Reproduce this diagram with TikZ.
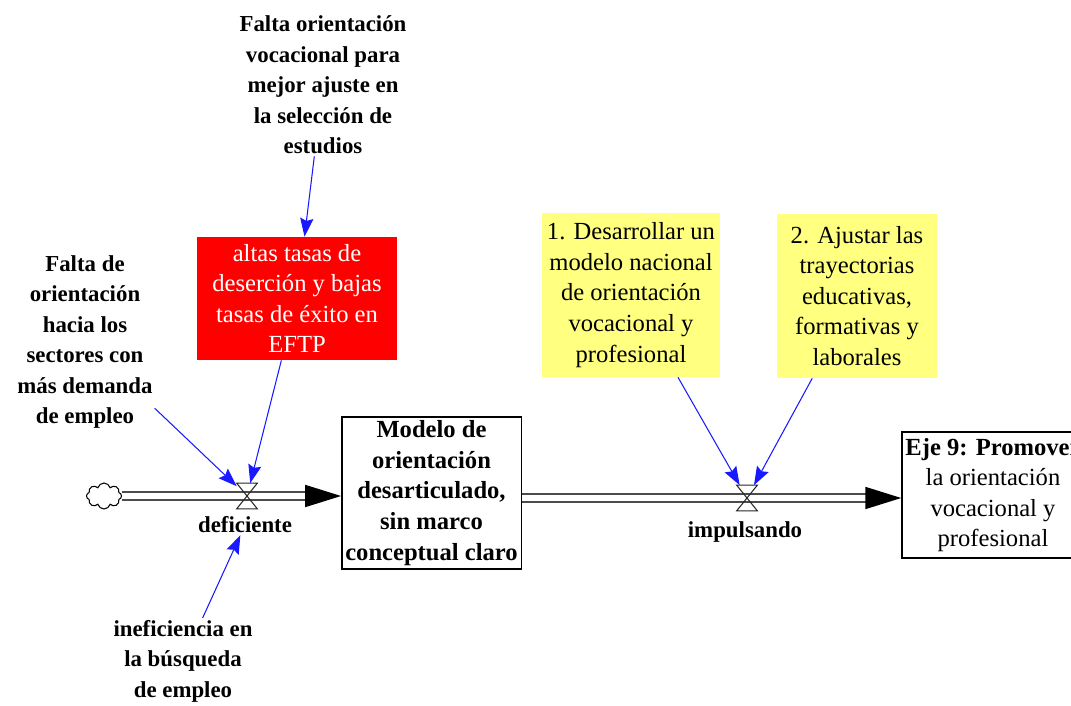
\documentclass[tikz,border=0pt]{standalone}
\usepackage{fontspec}
\setmainfont{Liberation Serif}
\usetikzlibrary{arrows.meta, positioning, shapes.symbols}
\definecolor{auxyellow}{RGB}{255,255,128}
\definecolor{linkblue}{RGB}{25,25,255}
\definecolor{probred}{RGB}{255,0,0}

\begin{document}
\begin{tikzpicture}[
    x=0.02cm, y=-0.02cm,
    txt/.style={align=center, font=\fontsize{14}{17.4}\selectfont, inner sep=2pt},
    cause/.style={align=center, font=\fontsize{13}{17.4}\selectfont\bfseries, inner sep=1pt},
    stock/.style={txt, draw, line width=0.8pt, minimum width=3.4cm, minimum height=3cm},
    aux/.style={txt, fill=auxyellow, minimum height=3.28cm},
    problem/.style={txt, fill=probred, text=white, minimum width=4cm, minimum height=2.46cm},
    valve/.style={inner sep=0, minimum width=0.4cm, minimum height=0.5cm},
    valveline/.style={draw=black!85, line width=0.6pt},
    pipe/.style={draw=black!70, line width=1pt, double=white, double distance=1.1mm,
        -{Triangle[length=0.72cm, width=0.44cm, color=black]}},
    link/.style={draw=linkblue, line width=0.6pt, -{Stealth[length=10.5pt, width=7.5pt, inset=1.5pt]}}
]
\useasboundingbox (0,0) rectangle (1071,706);

% causes
\node[cause] (vocacional) at (323,85) {Falta orientación\\vocacional para\\mejor ajuste en\\la selección de\\estudios};
\node[cause] (sectores) at (85,342) {Falta de\\orientación\\hacia los\\sectores con\\más demanda\\de empleo};
\node[cause] (busqueda) at (183,661) {ineficiencia en\\la búsqueda\\de empleo};
\node[problem] (tasas) at (297,298.5) {altas tasas de\\deserción y bajas\\tasas de éxito en\\EFTP};

% stock and flows
\node[cloud, draw, line width=0.6pt, cloud puffs=8, minimum width=0.7cm, minimum height=0.52cm, inner sep=0] (src) at (104,496) {};
\node[valve] (vd) at (247,496) {};
\node[cause] (deficiente) at (245,525) {deficiente};
\node[stock] (modelo) at (431.5,493) {\bfseries Modelo de\\\bfseries orientación\\\bfseries desarticulado,\\\bfseries sin marco\\\bfseries conceptual claro};
\node[valve] (vi) at (747,498) {};
\node[cause] (impulsando) at (745,532) {impulsando};
\node[stock, minimum width=3.52cm, minimum height=2.52cm] (eje) at (993,495) {\textbf{Eje 9: Promover}\\la orientación\\vocacional y\\profesional};

% actions
\node[aux, minimum width=3.56cm] (accion1) at (631,295) {1. Desarrollar un\\modelo nacional\\de orientación\\vocacional y\\profesional};
\node[aux, minimum width=3.2cm] (accion2) at (857,296) {2. Ajustar las\\trayectorias\\educativas,\\formativas y\\laborales};

\draw[pipe] (src.east) -- (vd.center) -- (vd -| modelo.west);
\draw[pipe] (vi -| modelo.east) -- (vi.center) -- (vi -| eje.west);
\draw[valveline] (vd.north west) -- (vd.north east) -- (vd.south west) -- (vd.south east) -- cycle;
\draw[valveline] (vi.north west) -- (vi.north east) -- (vi.south west) -- (vi.south east) -- cycle;

\draw[link] (vocacional) -- (tasas);
\draw[link] (tasas) -- (vd);
\draw[link] (sectores) -- (vd);
\draw[link] (busqueda) -- (deficiente);
\draw[link] (accion1) -- (vi);
\draw[link] (accion2) -- (vi);
\end{tikzpicture}
\end{document}
